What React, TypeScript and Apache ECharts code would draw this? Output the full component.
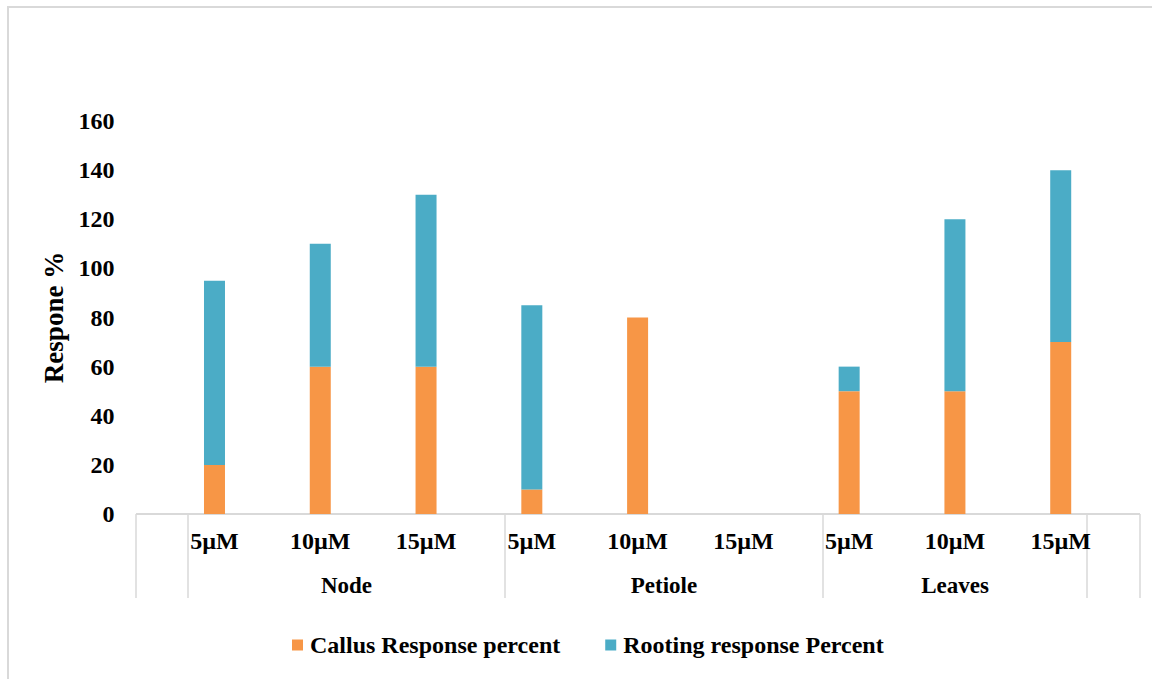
import React, { useEffect, useRef } from "react";
import * as echarts from "echarts";

// Explant groups and hormone concentrations
const groups = ["Node", "Petiole", "Leaves"];
const concentrations = ["5µM", "10µM", "15µM"];

// Response percentages, one value per group × concentration
const callusResponse = [20, 60, 60, 10, 80, 0, 50, 50, 70];
const rootingResponse = [75, 50, 70, 75, 0, 0, 10, 70, 70];

const yTicks = { min: 0, max: 160, interval: 20 };

const FONT = "'Liberation Serif', 'Times New Roman', serif";
const ORANGE = "#F79646";
const BLUE = "#4BACC6";
const FRAME = "#D9D9D9";

// Layout of the two-level category frame below the plot
const axisY = 514;
const frameBottom = 598;
const separatorsX = [136, 188, 505, 823, 1087, 1140];

export default function App() {
  const ref = useRef<HTMLDivElement>(null);

  useEffect(() => {
    document.body.style.margin = "0";
    if (!ref.current) return;
    const chart = echarts.init(ref.current, null, { renderer: "svg" });

    const categories: string[] = [];
    groups.forEach(() => concentrations.forEach((c) => categories.push(c)));

    // Group names sit centred between the group separators
    const groupLabels = groups.map((g, i) => ({
      type: "text",
      x: (separatorsX[i + 1] + separatorsX[i + 2]) / 2,
      y: 585,
      style: {
        text: g,
        font: `bold 23px ${FONT}`,
        fill: "#000",
        textAlign: "center",
        textVerticalAlign: "middle",
      },
    }));

    const separators = separatorsX.map((x) => ({
      type: "line",
      shape: { x1: x, y1: axisY, x2: x, y2: frameBottom },
      style: { stroke: FRAME, lineWidth: 1.5 },
    }));

    chart.setOption({
      animation: false,
      backgroundColor: "#fff",
      textStyle: { fontFamily: FONT },
      grid: { left: 161.6, right: 38.4, top: 121, bottom: 165 },
      legend: {
        bottom: 17,
        left: 287,
        itemWidth: 11,
        itemHeight: 11,
        itemGap: 45,
        icon: "rect",
        textStyle: {
          fontFamily: FONT,
          fontSize: 24,
          fontWeight: "bold",
          color: "#000",
          padding: [0, 0, 0, 2],
        },
        data: ["Callus Response percent", "Rooting response Percent"],
      },
      xAxis: {
        type: "category",
        data: categories,
        axisLine: { show: false },
        axisTick: { show: false },
        splitLine: { show: false },
        axisLabel: {
          margin: 15,
          fontFamily: FONT,
          fontSize: 24,
          fontWeight: "bold",
          color: "#000",
          interval: 0,
        },
      },
      yAxis: {
        type: "value",
        min: yTicks.min,
        max: yTicks.max,
        interval: yTicks.interval,
        name: "Respone %",
        nameLocation: "middle",
        nameGap: 89,
        nameTextStyle: { fontFamily: FONT, fontSize: 27, fontWeight: "bold", color: "#000" },
        axisLine: { show: false },
        axisTick: { show: false },
        splitLine: { show: false },
        axisLabel: {
          margin: 47,
          fontFamily: FONT,
          fontSize: 24,
          fontWeight: "bold",
          color: "#000",
        },
      },
      series: [
        {
          name: "Callus Response percent",
          type: "bar",
          stack: "response",
          barWidth: 21,
          itemStyle: { color: ORANGE },
          data: callusResponse,
        },
        {
          name: "Rooting response Percent",
          type: "bar",
          stack: "response",
          barWidth: 21,
          itemStyle: { color: BLUE },
          data: rootingResponse,
        },
      ],
      graphic: [
        {
          type: "rect",
          shape: { x: 8, y: 7, width: 1300, height: 800 },
          style: { fill: "none", stroke: FRAME, lineWidth: 2 },
          silent: true,
        },
        {
          type: "line",
          shape: { x1: separatorsX[0], y1: axisY, x2: separatorsX[separatorsX.length - 1], y2: axisY },
          style: { stroke: FRAME, lineWidth: 2 },
        },
        ...separators,
        ...groupLabels,
      ],
    });

    return () => chart.dispose();
  }, []);

  return <div ref={ref} style={{ width: 1152, height: 679 }} />;
}
